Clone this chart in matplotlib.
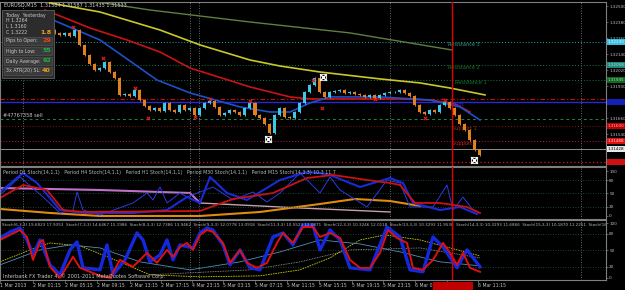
#!/usr/bin/env python3
# plot.py - EURUSD M15 chart with two stochastic sub-windows (MT4 style)

import numpy as np
import matplotlib
matplotlib.use("Agg")
import matplotlib.pyplot as plt
import matplotlib.transforms as mtrans
from matplotlib.patches import Rectangle

# ===== Price data (one candle per bar index, open = previous close) =====
FIRST_OPEN = 1.32315
CLOSES = [1.32320, 1.32335, 1.32305, 1.32342, 1.32320, 1.32298, 1.32328, 1.32313, 1.32290, 1.32320,
          1.32298, 1.32283, 1.32298, 1.32275, 1.32320, 1.32208, 1.32133, 1.32065, 1.32020, 1.32035,
          1.32080, 1.32005, 1.31960, 1.31833, 1.31840, 1.31825, 1.31870, 1.31795, 1.31750, 1.31720,
          1.31735, 1.31713, 1.31773, 1.31720, 1.31705, 1.31758, 1.31720, 1.31735, 1.31683, 1.31735,
          1.31773, 1.31788, 1.31743, 1.31683, 1.31698, 1.31720, 1.31705, 1.31683, 1.31735, 1.31773,
          1.31683, 1.31660, 1.31615, 1.31548, 1.31683, 1.31735, 1.31668, 1.31660, 1.31705, 1.31773,
          1.31855, 1.31908, 1.31960, 1.31855, 1.31818, 1.31855, 1.31863, 1.31870, 1.31848, 1.31855,
          1.31840, 1.31833, 1.31818, 1.31833, 1.31810, 1.31833, 1.31848, 1.31855, 1.31855, 1.31870,
          1.31848, 1.31825, 1.31758, 1.31705, 1.31690, 1.31720, 1.31705, 1.31758, 1.31780, 1.31735,
          1.31683, 1.31615, 1.31570, 1.31495, 1.31420, 1.31383]

# moving averages (bar, price)
MA_YELLOW_X = [10, 20, 32, 40, 50, 56, 64, 76, 84, 90, 97]
MA_YELLOW_Y = [1.32523, 1.32455, 1.32320, 1.32208, 1.32095, 1.32050, 1.32005, 1.31953, 1.31923, 1.31885, 1.31833]
MA_GREEN_X = [18, 30, 50, 70, 90.4]
MA_GREEN_Y = [1.32538, 1.32470, 1.32380, 1.32298, 1.32170]
MA_RED_X = [9, 18, 25.4, 32, 38, 50, 58, 62, 70, 80, 86, 91, 94]
MA_RED_Y = [1.32470, 1.32335, 1.32245, 1.32155, 1.32035, 1.31893, 1.31818, 1.31803, 1.31803, 1.31803,
            1.31795, 1.31765, 1.31705]
MA_BLUE_X = [8, 10.6, 20, 31.4, 38, 48, 54, 58, 62, 66, 76, 86, 92, 96]
MA_BLUE_Y = [1.32433, 1.32395, 1.32245, 1.31945, 1.31848, 1.31743, 1.31705, 1.31705, 1.31773, 1.31818,
             1.31818, 1.31795, 1.31743, 1.31645]

# pivot levels
LEVEL_R3 = 1.32230
LEVEL_R2 = 1.32058
LEVEL_R1 = 1.31945
LEVEL_PIVOT = 1.31803
LEVEL_BLUE = 1.31780
LEVEL_ORDER = 1.31653
LEVEL_S1 = 1.31600
LEVEL_S2 = 1.31488
LEVEL_BID = 1.31428
LEVEL_S3 = 1.31330

# fractal marks and star marks
FRACTAL_X = [14.6, 20.6, 27, 42, 50, 62.6, 75, 89, 29.6, 39, 64.4, 85]
FRACTAL_Y = [1.32343, 1.32110, 1.31885, 1.31803, 1.31788, 1.31945, 1.31803, 1.31795, 1.31660, 1.31668,
             1.31735, 1.31660]
STAR_X = [64.6, 53.6, 94.8]
STAR_Y = [1.31968, 1.31503, 1.31345]

PRICE_TICKS = [1.32500, 1.32380, 1.32260, 1.32140, 1.32020, 1.31900, 1.31660, 1.31540]

# ===== Window 2: multi-period stochastics =====
S2_PINK_X = [0, 20, 38, 40, 60, 78]
S2_PINK_Y = [62.2, 57.8, 51.1, 28.9, 17.8, 8.9]
S2_ORANGE_X = [0, 10, 20, 40, 52, 64, 71, 78, 84]
S2_ORANGE_Y = [15.6, 6.7, 0, 0, 8.9, 26.7, 37.8, 33.3, 22.2]
S2_RED_X = [0, 4.6, 9.4, 12.6, 16.6, 40, 46.6, 54.6, 61.4, 66.6, 73.4, 78, 80, 83, 88, 93.4, 96]
S2_RED_Y = [40, 68.9, 57.8, 13.3, 8.9, 11.1, 37.8, 51.1, 84.4, 91.1, 80, 73.3, 68.9, 28.9, 28.9, 20, 6.7]
S2_BLUE_X = [0, 4.6, 7.4, 10, 12, 16.6, 26.6, 33.4, 37.4, 40, 42, 45.4, 49.4, 56, 61.4, 64, 66, 72, 78,
             80.6, 82.6, 88, 92, 95.4]
S2_BLUE_Y = [53.3, 95.6, 73.3, 40, 13.3, 6.7, 6.7, 13.3, 42.2, 28.9, 86.7, 51.1, 35.6, 80, 97.8, 95.6,
             91.1, 64.4, 84.4, 73.3, 28.9, 13.3, 20, 4.4]
S2_THIN_X = [0, 4, 8.6, 12, 14.6, 15.4, 16.6, 20, 26.6, 29.4, 30.6, 32, 33.4, 36, 37.4, 42.6, 46.6, 50.6,
             53.4, 56, 60, 64, 66, 68, 73.4, 77.4, 80, 82, 86.6, 89.4, 90.6, 92.6, 94.6, 96]
S2_THIN_Y = [46.7, 86.7, 42.2, 6.7, 13.3, 53.3, 13.3, 2.2, 28.9, 51.1, 35.6, 64.4, 28.9, 51.1, 42.2, 64.4,
             35.6, 53.3, 31.1, 51.1, 95.6, 51.1, 86.7, 57.8, 20, 80, 73.3, 20, 20, 68.9, 13.3, 42.2, 13.3, 6.7]

# ===== Window 3: stochastic fan =====
S3_RED_X = [0, 2, 4, 5.4, 6.6, 8, 8.6, 10, 12, 14.6, 16, 20, 22, 24, 26.6, 29.4, 31.4, 33.4, 34.6, 36,
            37.4, 38.6, 40, 41.4, 42.6, 44.6, 46, 48, 49.4, 51.4, 53.4, 55.4, 56.6, 58.6, 60.6, 62.6, 64,
            66, 68, 70, 72, 74, 76, 77.6, 79.4, 81.4, 82.6, 84.6, 86.6, 88.6, 90, 91.4, 92.6, 94, 96]
S3_RED_Y = [69.1, 78.2, 87.3, 74.5, 32.7, 65.5, 69.1, 20, 0, 38.2, 18.2, 3.6, 0, 32.7, 20, 45.5, 27.3,
            50.9, 38.2, 56.4, 63.6, 50.9, 78.2, 87.3, 83.6, 63.6, 27.3, 50.9, 27.3, 18.2, 27.3, 63.6, 81.8,
            63.6, 92.7, 92.7, 74.5, 81.8, 72.7, 32.7, 18.2, 18.2, 45.5, 87.3, 72.7, 63.6, 18.2, 14.5, 32.7,
            63.6, 45.5, 23.6, 45.5, 18.2, 10.9]
S3_BLUE_X = [0, 2, 4, 5.4, 6.6, 8, 10, 12, 14, 15.4, 16.6, 20, 21.4, 22.6, 25, 27.4, 28.6, 30, 32, 33.4,
             34.6, 36, 38.6, 40, 41.4, 42.6, 44.6, 46, 48, 50, 52, 54.6, 56.6, 58.6, 60.6, 62.6, 64, 66,
             68, 70, 74, 77.4, 80, 82, 84.6, 86.6, 88.6, 91.4, 93.4, 96]
S3_BLUE_Y = [72.7, 83.6, 90.9, 69.1, 41.8, 69.1, 23.6, 5.5, 50.9, 65.5, 18.2, 14.5, 60, 5.5, 32.7, 81.8,
             69.1, 29.1, 41.8, 69.1, 32.7, 60, 54.5, 81.8, 90.9, 87.3, 60, 23.6, 50.9, 18.2, 14.5, 74.5,
             81.8, 60, 96.4, 96.4, 50.9, 87.3, 69.1, 18.2, 14.5, 92.7, 74.5, 14.5, 10.9, 74.5, 56.4, 18.2,
             50.9, 20]
S3_YELLOW_X = [0, 6, 10, 16, 22, 30, 40, 52, 60, 66, 72, 77, 84, 90, 96]
S3_YELLOW_Y = [29.1, 50.9, 63.6, 58.2, 36.4, 5.5, 1.8, 3.6, 14.5, 36.4, 69.1, 78.2, 69.1, 54.5, 40]
S3_LBLUE_X = [0, 8, 14, 20, 28, 38, 48, 56, 64, 72, 80, 88, 96]
S3_LBLUE_Y = [23.6, 50.9, 60, 54.5, 29.1, 14.5, 29.1, 47.3, 69.1, 61.8, 47.3, 29.1, 21.8]
S3_GREY_X = [30, 50, 60, 70, 84, 96]
S3_GREY_Y = [5.5, 14.5, 29.1, 50.9, 54.5, 36.4]

# ===== Time axis =====
TIME_TICKS = [0, 6.6, 13, 19.4, 26, 32.2, 38.4, 44.6, 51, 57.4, 63.8, 70.4, 76.6, 83, 89.4, 95.6]
TIME_LABELS = ["1 Mar 2013", "2 Mar 01:15", "2 Mar 05:15", "2 Mar 09:15", "2 Mar 13:15", "2 Mar 17:15",
               "4 Mar 23:15", "5 Mar 03:15", "5 Mar 07:15", "5 Mar 11:15", "5 Mar 15:15", "5 Mar 19:15",
               "5 Mar 23:15", "6 Mar 03:15", "", "6 Mar 11:15"]
VLINES = [4.6, 38, 39.8, 78, 116.2]
RED_VLINE = 90.4

W, H = 625, 290
FS = 3.6
AX_FS = 3.0
GRID_C = "#7f7f7f"
TXT_C = "#c0c0c0"


def px_box(x0, y0, x1, y1):
    return [x0 / W, 1 - y1 / H, (x1 - x0) / W, (y1 - y0) / H]


def style(ax):
    ax.set_facecolor("black")
    for s in ax.spines.values():
        s.set_color(GRID_C)
        s.set_linewidth(0.8)
    ax.yaxis.tick_right()
    ax.tick_params(axis="y", colors=GRID_C, labelcolor=TXT_C, labelsize=AX_FS, length=1.5, pad=0.8, width=0.5)
    ax.tick_params(axis="x", bottom=False, labelbottom=False)
    ax.set_xlim(0, 121.2)
    for v in VLINES:
        ax.axvline(v, color="#8a8a8a", lw=0.6, ls=(0, (1, 2)))
    ax.axvline(RED_VLINE, color="#e00000", lw=1.0, zorder=6)


def main():
    fig = plt.figure(figsize=(6.25, 2.9), dpi=100, facecolor="black")
    ax1 = fig.add_axes(px_box(0, 2, 606, 166))
    ax2 = fig.add_axes(px_box(0, 167, 606, 219))
    ax3 = fig.add_axes(px_box(0, 220, 606, 280))
    for ax in (ax1, ax2, ax3):
        style(ax)

    # ---- main window ----
    closes = np.array(CLOSES)
    opens = np.array([FIRST_OPEN] + CLOSES[:-1])
    xs = np.arange(1, len(closes) + 1)
    up = closes >= opens
    cols = np.where(up, "#3cc8e6", "#e0801e")
    ax1.vlines(xs, np.minimum(opens, closes) - 0.0001, np.maximum(opens, closes) + 0.0001,
               colors=cols, lw=0.7, zorder=4)
    ax1.bar(xs, np.abs(closes - opens) + 0.00002, bottom=np.minimum(opens, closes), width=0.6,
            color=cols, zorder=4)

    ax1.plot(MA_GREEN_X, MA_GREEN_Y, color="#5f7f3f", lw=1.0, zorder=3)
    ax1.plot(MA_YELLOW_X, MA_YELLOW_Y, color="#c8c828", lw=1.2, zorder=3)
    ax1.plot(MA_RED_X, MA_RED_Y, color="#c81414", lw=1.2, zorder=3)
    ax1.plot(MA_BLUE_X, MA_BLUE_Y, color="#1e50c8", lw=1.2, zorder=3)

    ax1.axhline(LEVEL_R3, color="#20a8a8", lw=0.7, ls=(0, (1, 2)))
    ax1.axhline(LEVEL_R2, color="#137a3a", lw=0.7, ls=(0, (1, 2)))
    ax1.axhline(LEVEL_R1, color="#137a3a", lw=0.7, ls=(0, (1, 2)))
    ax1.axhline(LEVEL_PIVOT, color="#c01010", lw=0.8, ls=(0, (4, 2, 1, 2)))
    ax1.axhline(LEVEL_BLUE, color="#2828d8", lw=1.0)
    ax1.axhline(LEVEL_ORDER, color="#1a8a3a", lw=0.7, ls=(0, (3, 3)))
    ax1.axhline(LEVEL_S1, color="#8a1a00", lw=0.7, ls=(0, (1, 2)))
    ax1.axhline(LEVEL_S2, color="#c01050", lw=0.7, ls=(0, (1, 2)))
    ax1.axhline(LEVEL_BID, color="#909090", lw=0.7)
    ax1.axhline(LEVEL_S3, color="#e01010", lw=0.9, ls=(0, (1, 2)))

    ax1.scatter(FRACTAL_X, FRACTAL_Y, marker="x", s=6, color="#e02020", lw=0.8, zorder=5)
    ax1.scatter(STAR_X, STAR_Y, marker="s", s=22, facecolors="none", edgecolors="#d0d0d0", lw=0.8, zorder=5)
    ax1.scatter(STAR_X, STAR_Y, marker="x", s=22, color="white", lw=1.0, zorder=5)

    ax1.text(89.6, LEVEL_R3, "Resistance 3", color="#2a9a8a", fontsize=FS, va="top")
    ax1.text(89.6, LEVEL_R2, "Resistance 2", color="#0f7a2a", fontsize=FS, va="top")
    ax1.text(91, LEVEL_R1, "Resistance 1", color="#0f7a2a", fontsize=FS, va="top")
    ax1.text(90.4, LEVEL_BLUE, "Pivot", color="#3030e0", fontsize=FS, va="top")
    ax1.text(90.4, LEVEL_S1, "Support 1", color="#8a3a10", fontsize=FS, va="top")
    ax1.text(90.4, LEVEL_S2, "Support 2", color="#d02020", fontsize=FS, va="top")
    ax1.text(0.6, LEVEL_ORDER + 0.0001, "#47767358 sell", color="#c8c8c8", fontsize=FS, va="bottom")

    ax1.set_ylim(1.3130, 1.3253)
    ax1.set_yticks(PRICE_TICKS)
    ax1.set_yticklabels([f"{p:.5f}" for p in PRICE_TICKS])

    # coloured price tags at the right edge
    tr = mtrans.blended_transform_factory(fig.transFigure, ax1.transData)
    tags = [(LEVEL_R3, "#38c0e0", "#e0ffff"), (LEVEL_R2, "#1f8a80", "#c0e0d0"),
            (LEVEL_R1, "#0c6a20", "#b0d0b0"), (LEVEL_BLUE, "#1420b8", "#1420b8"),
            (LEVEL_S1, "#c00000", "#ffb0b0"), (LEVEL_S2, "#e01010", "#ffd0d0"),
            (LEVEL_BID, "#e8e8e8", "#000000"), (LEVEL_S3, "#d01010", "#d01010")]
    for lv, bg, fg in tags:
        ax1.text(607.5 / W, lv, f"{lv:.5f}", transform=tr, color=fg, fontsize=AX_FS, va="center", ha="left",
                 clip_on=False, zorder=8,
                 bbox=dict(boxstyle="square,pad=0.15", fc=bg, ec="none"))

    # ---- window 2 ----
    ax2.plot(S2_PINK_X[:4], S2_PINK_Y[:4], color="#c070c8", lw=1.5)
    ax2.plot(S2_PINK_X[3:], S2_PINK_Y[3:], color="#c8a0a8", lw=1.0)
    ax2.plot(S2_ORANGE_X, S2_ORANGE_Y, color="#e08a10", lw=1.5)
    ax2.plot(S2_THIN_X, S2_THIN_Y, color="#2a3ae8", lw=0.7)
    ax2.plot(S2_BLUE_X, S2_BLUE_Y, color="#1a2ad8", lw=1.5)
    ax2.plot(S2_RED_X, S2_RED_Y, color="#d01010", lw=1.3)
    ax2.set_ylim(-6.7, 108.9)

    # ---- window 3 ----
    ax3.plot(S3_YELLOW_X, S3_YELLOW_Y, color="#c8c800", lw=0.6, ls=(0, (2, 1)))
    ax3.plot(S3_LBLUE_X, S3_LBLUE_Y, color="#5090c0", lw=0.6)
    ax3.plot(S3_GREY_X, S3_GREY_Y, color="#a0a0a0", lw=0.6, ls=(0, (1, 1)))
    ax3.plot(S3_BLUE_X, S3_BLUE_Y, color="#1428e0", lw=2.4)
    ax3.plot(S3_RED_X, S3_RED_Y, color="#e01010", lw=1.4)
    ax3.set_ylim(-4, 105.5)

    for ax in (ax2, ax3):
        for lv in (20, 50, 80):
            ax.axhline(lv, color="#1e5a4a", lw=0.6, ls=(0, (1, 2)))
        ax.set_yticks([0, 20, 50, 80, 100])
        ax.set_yticklabels(["0", "20", "50", "80", "100"])

    # time axis
    ax3.set_xticks(TIME_TICKS)
    ax3.set_xticklabels(TIME_LABELS, ha="left")
    ax3.tick_params(axis="x", bottom=True, labelbottom=True, colors=GRID_C, labelcolor=TXT_C,
                    labelsize=3.3, length=2, pad=0.5, width=0.5)
    fig.patches.append(Rectangle((433 / W, 0), 40 / W, 8 / H, transform=fig.transFigure,
                                 facecolor="#c00000", edgecolor="none", zorder=9))

    # ---- texts ----
    fig.text(4 / W, 1 - 5.5 / H, "EURUSD,M15  1.31584 1.31587 1.31435 1.31533", color="#d0d0d0",
             fontsize=FS, va="center")
    ax2.text(0.005, 0.9,
             "Period D1 Stoch(14,1,1)   Period H4 Stoch(14,1,1)   Period H1 Stoch(14,1,1)   "
             "Period M30 Stoch(14,1,1)   Period M15 Stoch(14,3,3) 10.3 11.7",
             transform=ax2.transAxes, color="#b4b4b4", fontsize=3.4, va="center", clip_on=True)
    ax3.text(0.003, 0.915,
             "Stoch(6,3,3) 19.6823 17.9353  Stoch(7,3,3) 14.6467 15.1986  Stoch(8,3,3) 12.7386 13.9462  "
             "Stoch(9,3,3) 12.0778 13.0918  Stoch(11,3,3) 10.5523 12.0871  Stoch(12,3,3) 10.3246 12.0118  "
             "Stoch(13,3,3) 10.3293 11.9536  Stoch(14,3,3) 10.3293 11.6866  Stoch(15,3,3) 10.1870 11.2251  Stoch(16",
             transform=ax3.transAxes, color="#b4b4b4", fontsize=2.95, va="center", clip_on=True)
    ax3.text(0.005, 0.07, "Interbank FX Trader 4, \u00a9 2001-2011 MetaQuotes Software Corp.",
             transform=ax3.transAxes, color="#c8c8c8", fontsize=FS, va="center")

    # info panel top-left
    fig.patches.append(Rectangle((2 / W, 1 - 78 / H), 52 / W, 68 / H, transform=fig.transFigure,
                                 facecolor="#2c2c2c", edgecolor="#606060", lw=0.6, zorder=9))
    info = [("Today  Yesterday", "", "#d0d0d0", 15), ("H 1.3264", "", "#d0d0d0", 21),
            ("L 1.3160", "", "#d0d0d0", 27), ("C 1.3222", "1.8", "#e8a020", 33),
            ("Pips to Open:", "29", "#e84020", 41), ("High to Low:", "55", "#20b040", 51),
            ("Daily Average:", "92", "#20b040", 61), ("3x ATR(20) SL:", "40", "#e8a020", 71)]
    for i, (lab, val, vc, y) in enumerate(info):
        if i >= 4:
            fig.patches.append(Rectangle((4 / W, 1 - (y + 4) / H), 48 / W, 8 / H, transform=fig.transFigure,
                                         facecolor="#3a3a3a", edgecolor="#5a5a5a", lw=0.4, zorder=9))
        fig.text(6 / W, 1 - y / H, lab, color="#c8c8c8", fontsize=3.4, va="center", zorder=10)
        if val:
            fig.text(51 / W, 1 - y / H, val, color=vc, fontsize=4.6, va="center", ha="right",
                     fontweight="bold", zorder=10)

    fig.savefig("out.png", dpi=100, facecolor="black")


if __name__ == "__main__":
    main()
